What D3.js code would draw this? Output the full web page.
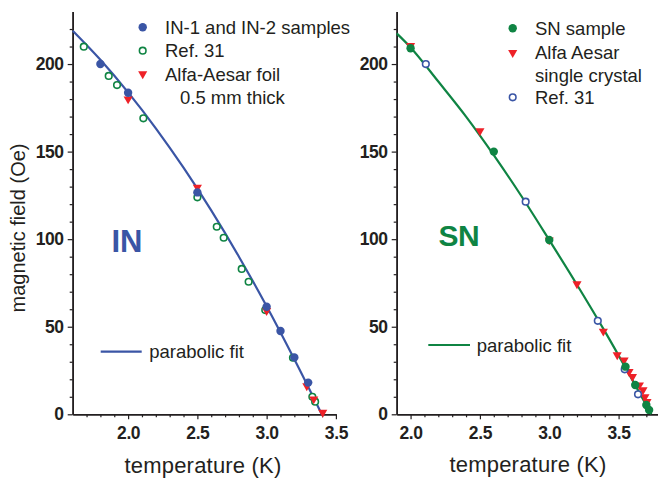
<!DOCTYPE html>
<html><head><meta charset="utf-8">
<script src="https://cdn.jsdelivr.net/npm/d3@7"></script>
<style>
html,body{margin:0;padding:0;background:#fff;}
svg{display:block;font-family:"Liberation Sans",Arial,Helvetica,sans-serif;}
</style></head>
<body>
<svg id="chart" width="658" height="479"></svg>
<script>
// ---------- data ----------
// Left panel (IN)
const inSamplesT = [1.8, 2.0, 2.5, 3.0, 3.1, 3.2, 3.3];
const inSamplesH = [200, 183.6, 126.7, 61.4, 47.6, 32.5, 18.1];
const inRef31T = [1.68, 1.86, 1.92, 2.11, 2.50, 2.64, 2.69, 2.82, 2.87, 2.99, 3.19, 3.33, 3.35];
const inRef31H = [209.9, 193.2, 188, 169, 123.9, 107.1, 100.8, 83, 75.7, 59.5, 32.3, 10, 7.2];
const inFoilT = [2.0, 2.5, 3.0, 3.29, 3.34, 3.405];
const inFoilH = [180, 129.6, 59.2, 16.2, 8.7, 1.1];
const inFitT = [1.6, 1.8, 2.0, 2.2, 2.4, 2.6, 2.8, 3.0, 3.2, 3.398];
const inFitH = [219, 202.4, 183.8, 163.3, 140.8, 116.4, 90, 61.7, 31.4, 0];
// Right panel (SN)
const snSamplesT = [2.0, 2.6, 3.0, 3.55, 3.62, 3.70, 3.72];
const snSamplesH = [209, 150, 99.5, 27.2, 16.7, 5.3, 2.5];
const snCrystalT = [2.0, 2.5, 3.0, 3.2, 3.39, 3.49, 3.54, 3.575, 3.6, 3.65, 3.676, 3.69, 3.705];
const snCrystalH = [210.5, 161.8, 99.5, 74.4, 47.4, 33.9, 31, 24.3, 21.5, 16.7, 13.9, 10, 7.2];
const snRef31T = [2.11, 2.83, 3.35, 3.544, 3.64];
const snRef31H = [200, 121.4, 53.4, 25.7, 11.4];
const snFitT = [1.9, 2.0, 2.2, 2.4, 2.6, 2.8, 3.0, 3.2, 3.4, 3.6, 3.736];
const snFitH = [217.5, 209.5, 190, 170, 148, 124.5, 99.5, 74, 47.5, 19.5, 0];
// ticks / labels
const yTicks = [0, 50, 100, 150, 200];
const xTicksIN = [2.0, 2.5, 3.0, 3.5];
const xTicksSN = [2.0, 2.5, 3.0, 3.5];
const legendIN = ["IN-1 and IN-2 samples", "Ref. 31", "Alfa-Aesar foil", "0.5 mm thick"];
const legendSN = ["SN sample", "Alfa Aesar", "single crystal", "Ref. 31"];
const fitLabel = "parabolic fit";
const xTitle = "temperature (K)";
const yTitle = "magnetic field (Oe)";

// ---------- styles ----------
const BLUE = "#3a55a5", GREEN = "#0f8443", RED = "#ee2128", INK = "#231f20";
const zip = (a, b) => a.map((v, i) => [v, b[i]]);

const svg = d3.select("#chart");

const y = d3.scaleLinear().domain([0, 230]).range([414.3, 11.5]);
const xL = d3.scaleLinear().domain([1.6, 3.5]).range([72.7, 335.9]);
const xR = d3.scaleLinear().domain([1.9, 3.8]).range([396.7, 660.2]);

function drawAxes(x, xTicks, xMinorEnd) {
  const g = svg.append("g");
  const x0 = x.range()[0];
  const xMin = d3.range(Math.round(x.domain()[0]*10)+1, Math.round(xMinorEnd*10)+1)
      .map(v => v/10).filter(v => !xTicks.some(t => Math.abs(t - v) < 1e-6));
  const yMin = d3.range(10, 230, 10).filter(v => v % 50 !== 0);
  g.append("g").attr("transform", `translate(0,${y(0)})`)
    .call(d3.axisBottom(x).tickValues(xMin).tickSize(3).tickSizeOuter(0).tickFormat(""));
  g.append("g").attr("transform", `translate(${x0},0)`)
    .call(d3.axisLeft(y).tickValues(yMin).tickSize(3).tickSizeOuter(0).tickFormat(""));
  g.append("g").attr("transform", `translate(0,${y(0)})`)
    .call(d3.axisBottom(x).tickValues(xTicks).tickSize(5).tickSizeOuter(0).tickPadding(7).tickFormat(d3.format(".1f")));
  g.append("g").attr("transform", `translate(${x0},0)`)
    .call(d3.axisLeft(y).tickValues(yTicks).tickSize(5).tickSizeOuter(0).tickPadding(4).tickFormat(d3.format("d")));
  g.selectAll("path.domain").attr("stroke", INK).attr("stroke-width", 1.6);
  g.selectAll(".tick line").attr("stroke", INK).attr("stroke-width", 1.2);
  g.selectAll(".tick text").attr("fill", INK).style("font-size", "17.5px")
    .style("font-weight", "bold").style("letter-spacing", "-0.4px")
    .style("font-family", "'Liberation Sans',Arial,sans-serif");
}

drawAxes(xL, xTicksIN, 3.4);
drawAxes(xR, xTicksSN, 3.8);

// titles
svg.append("text").attr("x", 203).attr("y", 473).attr("text-anchor", "middle")
  .attr("fill", INK).style("font-size", "22px").style("letter-spacing","0.2px").text(xTitle);
svg.append("text").attr("x", 528).attr("y", 472).attr("text-anchor", "middle")
  .attr("fill", INK).style("font-size", "22px").style("letter-spacing","0.2px").text(xTitle);
svg.append("text").attr("transform", "translate(25,228) rotate(-90)").attr("text-anchor", "middle")
  .attr("fill", INK).style("font-size", "20px").text(yTitle);

// markers
function circles(x, T, H, color, open) {
  svg.append("g").selectAll("circle").data(zip(T, H)).join("circle")
    .attr("cx", d => x(d[0])).attr("cy", d => y(d[1]))
    .attr("r", open ? 3.3 : 4.2)
    .attr("fill", open ? "#fff" : color)
    .attr("stroke", open ? color : "none")
    .attr("stroke-width", open ? 1.6 : 0);
}
const tri = d3.symbol().type(d3.symbolTriangle).size(36);
function triangles(x, T, H) {
  svg.append("g").selectAll("path").data(zip(T, H)).join("path")
    .attr("d", tri)
    .attr("transform", d => `translate(${x(d[0])},${y(d[1])}) rotate(180)`)
    .attr("fill", RED);
}
function fitLine(x, T, H, color) {
  svg.append("path").datum(zip(T, H))
    .attr("d", d3.line().x(d => x(d[0])).y(d => y(d[1])).curve(d3.curveMonotoneX))
    .attr("fill", "none").attr("stroke", color).attr("stroke-width", 2.2);
}

// Left panel
fitLine(xL, inFitT, inFitH, BLUE);
circles(xL, inRef31T, inRef31H, GREEN, true);
triangles(xL, inFoilT, inFoilH);
circles(xL, inSamplesT, inSamplesH, BLUE, false);

// Right panel
fitLine(xR, snFitT, snFitH, GREEN);
triangles(xR, snCrystalT, snCrystalH);
circles(xR, snRef31T, snRef31H, BLUE, true);
circles(xR, snSamplesT, snSamplesH, GREEN, false);

// Legends
function legText(x, yy, t) {
  svg.append("text").attr("x", x).attr("y", yy + 6.5).attr("fill", INK)
    .style("font-size", "18.5px").text(t);
}
// left legend
svg.append("circle").attr("cx", 142.7).attr("cy", 27.3).attr("r", 4.2).attr("fill", BLUE);
svg.append("circle").attr("cx", 142.7).attr("cy", 50.7).attr("r", 3.3).attr("fill", "#fff")
  .attr("stroke", GREEN).attr("stroke-width", 1.6);
svg.append("path").attr("d", tri).attr("transform", "translate(142.7,74) rotate(180)").attr("fill", RED);
legText(165, 27.3, legendIN[0]);
legText(165, 50.7, legendIN[1]);
legText(165, 74, legendIN[2]);
legText(180, 97.3, legendIN[3]);
// right legend
svg.append("circle").attr("cx", 512.7).attr("cy", 28.3).attr("r", 4.2).attr("fill", GREEN);
svg.append("path").attr("d", tri).attr("transform", "translate(512.7,52.7) rotate(180)").attr("fill", RED);
svg.append("circle").attr("cx", 512.7).attr("cy", 97.3).attr("r", 3.3).attr("fill", "#fff")
  .attr("stroke", BLUE).attr("stroke-width", 1.6);
legText(535, 28.3, legendSN[0]);
legText(535, 52.7, legendSN[1]);
legText(535, 75, legendSN[2]);
legText(535, 97.3, legendSN[3]);

// parabolic fit legends
svg.append("line").attr("x1", 100.7).attr("x2", 141.7).attr("y1", 351.7).attr("y2", 351.7)
  .attr("stroke", BLUE).attr("stroke-width", 2.2);
legText(149.3, 351.7, fitLabel);
svg.append("line").attr("x1", 428.3).attr("x2", 470).attr("y1", 345).attr("y2", 345)
  .attr("stroke", GREEN).attr("stroke-width", 2.2);
legText(476.7, 345, fitLabel);

// panel labels
svg.append("text").attr("x", 111.5).attr("y", 251.5).attr("fill", BLUE)
  .style("font-size", "31px").style("font-weight", "bold").text("IN");
svg.append("text").attr("x", 438.5).attr("y", 245.5).attr("fill", GREEN)
  .style("font-size", "30px").style("font-weight", "bold").style("letter-spacing","-0.5px").text("SN");
</script>
</body></html>
